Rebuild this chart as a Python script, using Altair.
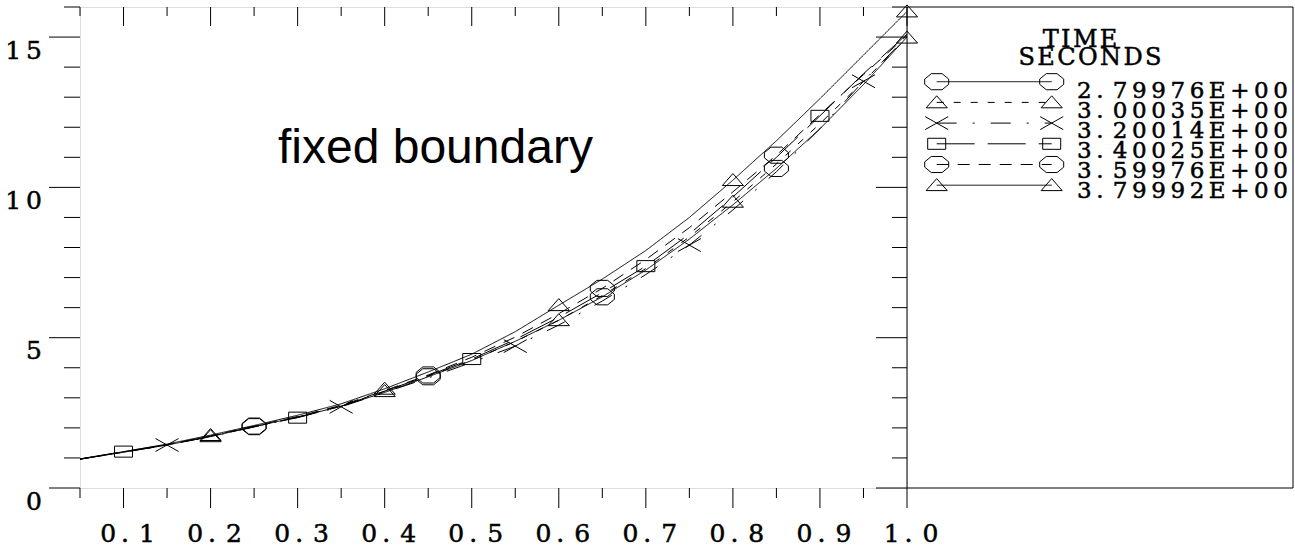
import altair as alt
import pandas as pd

# ---------------- data ----------------
SERIES = ["2.79976E+00", "3.00035E+00", "3.20014E+00",
          "3.40025E+00", "3.59976E+00", "3.79992E+00"]

X_VALUES = [0.05, 0.10, 0.15, 0.20, 0.25, 0.30, 0.35, 0.40, 0.45, 0.50,
            0.55, 0.60, 0.65, 0.70, 0.75, 0.80, 0.85, 0.90, 0.95, 1.00]

S1 = [0.96, 1.19, 1.43, 1.71, 2.04, 2.36, 2.72, 3.18, 3.70, 4.24,
      4.88, 5.58, 6.36, 7.25, 8.28, 9.42, 10.63, 11.95, 13.42, 15.00]
S2 = [0.96, 1.19, 1.43, 1.72, 2.04, 2.36, 2.73, 3.22, 3.72, 4.25,
      4.87, 5.58, 6.40, 7.30, 8.35, 9.52, 10.78, 12.12, 13.52, 14.98]
S3 = [0.96, 1.19, 1.43, 1.71, 2.03, 2.35, 2.70, 3.18, 3.66, 4.18,
      4.72, 5.42, 6.22, 7.10, 8.08, 9.25, 10.52, 11.95, 13.53, 15.02]
S4 = [0.96, 1.21, 1.44, 1.72, 2.04, 2.34, 2.72, 3.22, 3.74, 4.29,
      4.94, 5.68, 6.50, 7.38, 8.45, 9.68, 11.00, 12.38, 13.78, 15.10]
S5 = [0.96, 1.20, 1.44, 1.73, 2.06, 2.38, 2.75, 3.24, 3.76, 4.35,
      5.02, 5.80, 6.64, 7.60, 8.66, 9.85, 11.07, 12.42, 13.75, 15.05]
S6 = [0.97, 1.21, 1.46, 1.76, 2.08, 2.42, 2.80, 3.30, 3.86, 4.45,
      5.20, 6.08, 6.95, 7.90, 9.00, 10.24, 11.55, 12.95, 14.40, 15.85]
VALUES = [S1, S2, S3, S4, S5, S6]

MARKER_X = [
    [0.25, 0.45, 0.65, 0.85],
    [0.20, 0.40, 0.60, 0.80, 1.00],
    [0.15, 0.35, 0.55, 0.75, 0.95],
    [0.10, 0.30, 0.50, 0.70, 0.90],
    [0.25, 0.45, 0.65, 0.85],
    [0.20, 0.40, 0.60, 0.80, 1.00],
]

X_LABEL_VALUES = [0.1, 0.2, 0.3, 0.4, 0.5, 0.6, 0.7, 0.8, 0.9, 1.0]
X_LABEL_TEXT = ["0.1", "0.2", "0.3", "0.4", "0.5", "0.6", "0.7", "0.8", "0.9", "1.0"]
Y_LABEL_VALUES = [0, 5, 10, 15]
Y_LABEL_TEXT = ["0", "5", "10", "15"]
X_TICKS = [0.05, 0.10, 0.15, 0.20, 0.25, 0.30, 0.35, 0.40, 0.45, 0.50,
           0.55, 0.60, 0.65, 0.70, 0.75, 0.80, 0.85, 0.90, 0.95, 1.00]
Y_TICKS = [0, 1, 2, 3, 4, 5, 6, 7, 8, 9, 10, 11, 12, 13, 14, 15, 16]

LEGEND_TITLE = ["TIME", "SECONDS"]
ANNOTATION = ["fixed boundary"]

# ---------------- styles ----------------
OCT = "M-0.45,-0.67L0.45,-0.67L1,-0.22L1,0.22L0.45,0.67L-0.45,0.67L-1,0.22L-1,-0.22Z"
TRI = "M-0.88,0.45L0,-0.55L0.88,0.45Z"
XSH = "M-0.96,-0.54L0.96,0.54M-0.96,0.54L0.96,-0.54"
SQR = "M-0.75,-0.46L0.75,-0.46L0.75,0.46L-0.75,0.46Z"
SHAPES = [OCT, TRI, XSH, SQR, OCT, TRI]
DASHES = [[1, 0], [7, 10], [20, 16, 2, 16], [38, 13], [12, 9], [1, 0]]

SERIF = "DejaVu Serif"
W, H = 827, 481
THIN = "\u2009"
HAIR = "\u200a"
TXT = dict(font=SERIF, color="black", stroke="black", strokeWidth=0.5)


def spaced(s, sep=THIN):
    """old plotter look: letter-spaced text with a wide slot after the point"""
    out = sep.join(s)
    return out.replace("." + sep, "." + sep + sep)


rows = []
for s, ys, mx in zip(SERIES, VALUES, MARKER_X):
    for x, y in zip(X_VALUES, ys):
        rows.append({"series": s, "x": x, "y": y,
                     "marker": any(abs(x - m) < 1e-9 for m in mx)})
df = pd.DataFrame(rows)

x_scale = alt.Scale(domain=[0.05, 1.0], nice=False, zero=False)
y_scale = alt.Scale(domain=[0, 16], nice=False, zero=False)
dash_enc = alt.StrokeDash("series:N", scale=alt.Scale(domain=SERIES, range=DASHES), legend=None)
shape_enc = alt.Shape("series:N", scale=alt.Scale(domain=SERIES, range=SHAPES), legend=None)

lines = alt.Chart(df).mark_line(color="black", strokeWidth=1).encode(
    x=alt.X("x:Q", scale=x_scale, axis=None),
    y=alt.Y("y:Q", scale=y_scale, axis=None),
    strokeDash=dash_enc,
    detail="series:N",
    order="x:Q",
)

points = alt.Chart(df).transform_filter("datum.marker").mark_point(
    filled=False, color="black", strokeWidth=1, size=576, opacity=1
).encode(x=alt.X("x:Q", axis=None), y=alt.Y("y:Q", axis=None), shape=shape_enc)

# ---- ticks (rules through the scales) ----
xt = alt.Chart(pd.DataFrame({"v": X_TICKS})).transform_calculate(
    major="abs(datum.v*10 - round(datum.v*10)) < 0.001")
bottom_ticks = xt.transform_calculate(
    y0=f"{H}", y1=f"{H} + (datum.major ? 20 : 10)").mark_rule(color="black").encode(
    x=alt.X("v:Q", axis=None), y=alt.Y("y0:Q", scale=None, axis=None), y2="y1:Q")
top_ticks = xt.transform_calculate(
    y0="0", y1="datum.major ? 19 : 9").mark_rule(color="black").encode(
    x=alt.X("v:Q", axis=None), y=alt.Y("y0:Q", scale=None, axis=None), y2="y1:Q")

yt = alt.Chart(pd.DataFrame({"v": Y_TICKS})).transform_calculate(
    major="datum.v % 5 == 0")
left_ticks = yt.transform_calculate(
    x0="datum.major ? -31 : -16", x1="0").mark_rule(color="black").encode(
    y=alt.Y("v:Q", axis=None), x=alt.X("x0:Q", scale=None, axis=None), x2="x1:Q")
right_ticks = yt.transform_calculate(
    x0=f"{W} - (datum.major ? 31 : 15)", x1=f"{W}").mark_rule(color="black").encode(
    y=alt.Y("v:Q", axis=None), x=alt.X("x0:Q", scale=None, axis=None), x2="x1:Q")

# ---- tick labels ----
xlab_df = pd.DataFrame({"v": X_LABEL_VALUES, "lab": [spaced(t) for t in X_LABEL_TEXT]})
x_labels = alt.Chart(xlab_df).transform_calculate(ly=f"{H} + 54").mark_text(
    fontSize=25, align="center", baseline="alphabetic", dx=4, **TXT).encode(
    x=alt.X("v:Q", axis=None), y=alt.Y("ly:Q", scale=None, axis=None), text="lab:N")

ylab_df = pd.DataFrame({"v": Y_LABEL_VALUES, "lab": [spaced(t) for t in Y_LABEL_TEXT]})
y_labels = alt.Chart(ylab_df).transform_calculate(lx="-38").mark_text(
    fontSize=25, align="right", baseline="alphabetic", dy=21.5, **TXT).encode(
    y=alt.Y("v:Q", axis=None), x=alt.X("lx:Q", scale=None, axis=None), text="lab:N")

# ---- legend panel ----
box = alt.Chart(pd.DataFrame({"d": [0]})).mark_rect(
    fill=None, stroke="black", strokeWidth=1).encode(
    x=alt.value(W), x2=alt.value(1213), y=alt.value(0), y2=alt.value(H))

title_df = pd.DataFrame({"t": [spaced(t, HAIR) for t in LEGEND_TITLE], "row": [0, 1]})
legend_title = alt.Chart(title_df).transform_calculate(
    tx="datum.row == 0 ? 1000 : 1010", ty="datum.row == 0 ? 40 : 58"
).mark_text(fontSize=24, align="center", baseline="alphabetic", **TXT).encode(
    x=alt.X("tx:Q", scale=None, axis=None), y=alt.Y("ty:Q", scale=None, axis=None),
    text="t:N")

leg_df = pd.DataFrame({"series": SERIES, "row": list(range(len(SERIES))),
                       "lab": [spaced(s) for s in SERIES]})
leg_base = alt.Chart(leg_df).transform_calculate(
    ly="74.7 + datum.row * 20.7", lx1="856.7", lx2="971.7",
    ty="91 + datum.row * 19.9", tx="997")
leg_lines = leg_base.mark_rule(color="black", strokeWidth=1).encode(
    x=alt.X("lx1:Q", scale=None, axis=None), x2="lx2:Q",
    y=alt.Y("ly:Q", scale=None, axis=None), strokeDash=dash_enc)
leg_pts1 = leg_base.mark_point(filled=False, color="black", strokeWidth=1,
                               size=576, opacity=1).encode(
    x=alt.X("lx1:Q", scale=None, axis=None),
    y=alt.Y("ly:Q", scale=None, axis=None), shape=shape_enc)
leg_pts2 = leg_base.mark_point(filled=False, color="black", strokeWidth=1,
                               size=576, opacity=1).encode(
    x=alt.X("lx2:Q", scale=None, axis=None),
    y=alt.Y("ly:Q", scale=None, axis=None), shape=shape_enc)
leg_text = leg_base.mark_text(fontSize=23, align="left", baseline="alphabetic",
                              **TXT).encode(
    x=alt.X("tx:Q", scale=None, axis=None),
    y=alt.Y("ty:Q", scale=None, axis=None), text="lab:N")

annot = alt.Chart(pd.DataFrame({"t": ANNOTATION})).mark_text(
    font="Liberation Sans", fontSize=48, align="left", baseline="alphabetic",
    color="black").encode(x=alt.value(198), y=alt.value(156), text="t:N")

chart = alt.layer(
    lines, points, bottom_ticks, top_ticks, left_ticks, right_ticks,
    x_labels, y_labels,
    box, legend_title, leg_lines, leg_pts1, leg_pts2, leg_text, annot
).properties(
    width=W, height=H,
    autosize=alt.AutoSizeParams(type="none"),
    padding={"left": 80, "top": 7, "right": 388, "bottom": 62},
).configure_view(stroke="black", strokeWidth=1).configure(background="white")

chart.save("out.html", embed_options={"renderer": "svg", "actions": False})
